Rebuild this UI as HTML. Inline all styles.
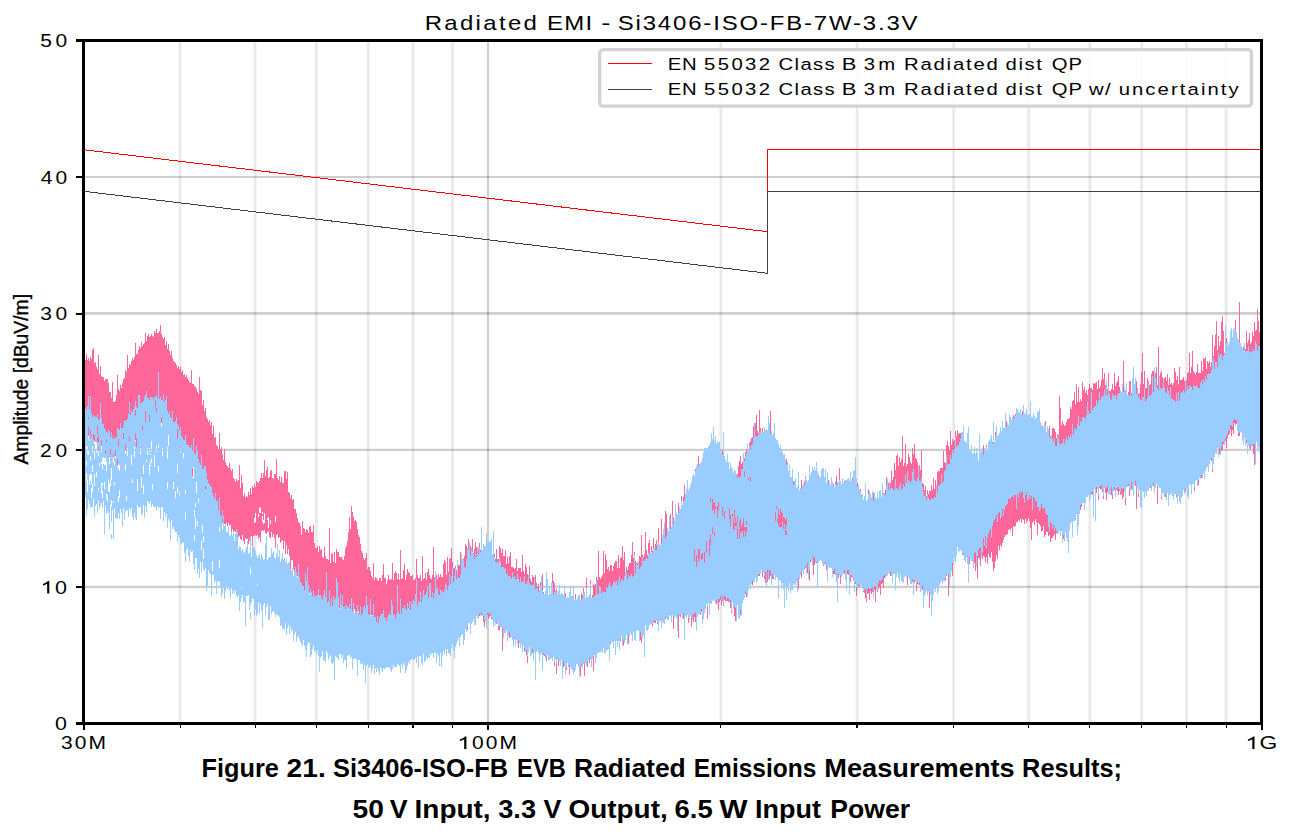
<!DOCTYPE html>
<html><head><meta charset="utf-8"><title>Radiated EMI</title>
<style>
html,body{margin:0;padding:0;background:#fff;}
body{width:1289px;height:839px;overflow:hidden;font-family:"Liberation Sans",sans-serif;}
svg{display:block;font-family:"Liberation Sans",sans-serif;}
</style></head><body>
<svg width="1289" height="839" viewBox="0 0 1289 839">
<rect width="1289" height="839" fill="#fff"/>
<g>
<rect x="178.74" y="42" width="2.8" height="679.5" fill="#000" fill-opacity="0.088"/>
<rect x="253.71" y="42" width="2.8" height="679.5" fill="#000" fill-opacity="0.088"/>
<rect x="314.96" y="42" width="2.8" height="679.5" fill="#000" fill-opacity="0.088"/>
<rect x="366.74" y="42" width="2.8" height="679.5" fill="#000" fill-opacity="0.088"/>
<rect x="411.60" y="42" width="2.8" height="679.5" fill="#000" fill-opacity="0.088"/>
<rect x="451.17" y="42" width="2.8" height="679.5" fill="#000" fill-opacity="0.088"/>
<rect x="719.42" y="42" width="2.8" height="679.5" fill="#000" fill-opacity="0.088"/>
<rect x="855.63" y="42" width="2.8" height="679.5" fill="#000" fill-opacity="0.088"/>
<rect x="952.28" y="42" width="2.8" height="679.5" fill="#000" fill-opacity="0.088"/>
<rect x="1027.24" y="42" width="2.8" height="679.5" fill="#000" fill-opacity="0.088"/>
<rect x="1088.49" y="42" width="2.8" height="679.5" fill="#000" fill-opacity="0.088"/>
<rect x="1140.28" y="42" width="2.8" height="679.5" fill="#000" fill-opacity="0.088"/>
<rect x="1185.14" y="42" width="2.8" height="679.5" fill="#000" fill-opacity="0.088"/>
<rect x="1224.70" y="42" width="2.8" height="679.5" fill="#000" fill-opacity="0.088"/>
<rect x="486.97" y="42" width="2.1" height="680" fill="#000" fill-opacity="0.19"/>
<rect x="85" y="585.70" width="1175" height="2.40" fill="#000" fill-opacity="0.19"/>
<rect x="85" y="448.80" width="1175" height="2.20" fill="#000" fill-opacity="0.19"/>
<rect x="85" y="312.00" width="1175" height="2.80" fill="#000" fill-opacity="0.19"/>
<rect x="85" y="176.00" width="1175" height="2.00" fill="#000" fill-opacity="0.19"/>
</g>
<g fill="none" stroke-width="1" shape-rendering="crispEdges">
<path d="M85.00 149.88L767.77 231.74M767.50 231.74V149.50H1260.00" stroke="#ff0000"/>
<path d="M85.00 191.46L767.77 273.32M767.50 273.52V191.50H1260.00" stroke="#404040"/>
</g>
<g shape-rendering="crispEdges" stroke-width="1" fill="none" transform="translate(0.5 0)">
<path stroke="#ff6699" d="M85 360v72M86 354v81M87 360v75M88 358v78M89 361v78M90 357v81M91 359v81M92 350v89M93 348v94M94 363v78M95 362v80M96 367v75M97 369v91M98 355v95M99 374v84M100 366v86M101 376v70M102 377v80M103 377v77M104 381v71M105 379v79M106 379v72M107 379v73M108 383v73M109 392v65M110 392v77M111 398v57M112 382v82M113 402v55M114 402v55M115 401v55M116 395v60M117 375v91M118 389v71M119 391v67M120 385v69M121 388v67M122 383v71M123 379v84M124 378v77M125 370v80M126 372v74M127 355v91M128 368v77M129 364v82M130 365v77M131 361v81M132 358v90M133 360v82M134 357v89M135 343v97M136 354v93M137 354v83M138 350v85M139 346v91M140 348v87M141 342v91M142 346v88M143 344v90M144 343v86M145 333v97M146 341v90M147 336v95M148 334v92M149 337v89M150 336v91M151 334v89M152 336v91M153 337v90M154 331v91M155 333v87M156 329v92M157 333v84M158 333v98M159 331v93M160 325v96M161 334v89M162 337v87M163 339v97M164 337v98M165 345v84M166 341v88M167 349v81M168 344v88M169 351v81M170 355v82M171 351v86M172 358v79M173 361v77M174 362v81M175 363v96M176 365v86M177 368v79M178 366v84M179 369v80M180 367v81M181 372v81M182 370v80M183 375v76M184 374v88M185 377v85M186 375v80M187 378v78M188 380v85M189 382v81M190 383v78M191 370v92M192 384v93M193 384v81M194 386v83M195 387v81M196 389v86M197 392v83M198 394v104M199 377v110M200 390v90M201 391v92M202 405v82M203 400v82M204 411v80M205 408v82M206 417v72M207 419v90M208 422v72M209 420v79M210 425v75M211 422v87M212 434v65M213 426v87M214 438v67M215 437v71M216 445v63M217 446v67M218 449v68M219 433v81M220 449v70M221 447v73M222 454v69M223 460v72M224 449v75M225 462v63M226 465v58M227 466v60M228 468v55M229 463v62M230 469v56M231 471v63M232 469v60M233 478v55M234 479v52M235 482v50M236 479v55M237 481v58M238 480v57M239 465v71M240 488v51M241 475v65M242 483v52M243 496v45M244 493v51M245 498v40M246 496v43M247 497v42M248 492v52M249 495v46M250 488v49M251 494v42M252 486v61M253 488v48M254 484v52M255 487v48M256 481v55M257 482v53M258 483v56M259 481v56M260 478v64M261 473v58M262 478v52M263 473v58M264 460v70M265 476v57M266 470v64M267 467v65M268 478v53M269 477v60M270 471v67M271 470v62M272 478v59M273 479v55M274 474v64M275 474v74M276 459v76M277 478v56M278 480v58M279 476v61M280 482v61M281 477v64M282 483v57M283 483v66M284 471v70M285 471v83M286 479v66M287 472v82M288 492v57M289 493v63M290 498v71M291 495v65M292 500v60M293 499v70M294 509v64M295 509v72M296 513v59M297 518v58M298 522v56M299 523v61M300 526v56M301 535v50M302 521v65M303 528v64M304 529v77M305 532v64M306 529v63M307 530v62M308 533v76M309 527v66M310 526v68M311 532v68M312 532v67M313 525v80M314 543v55M315 548v51M316 548v62M317 546v61M318 552v50M319 546v62M320 550v56M321 549v58M322 557v48M323 558v46M324 547v64M325 556v51M326 559v45M327 559v51M328 560v49M329 528v94M330 563v63M331 554v63M332 553v55M333 562v51M334 552v55M335 563v64M336 549v59M337 552v56M338 552v54M339 557v51M340 557v49M341 557v50M342 559v48M343 560v47M344 556v54M345 548v65M346 546v73M347 541v66M348 532v77M349 517v93M350 529v81M351 506v106M352 512v99M353 517v92M354 521v88M355 520v92M356 522v95M357 529v83M358 535v76M359 537v90M360 544v71M361 551v66M362 553v61M363 558v56M364 560v54M365 558v74M366 553v63M367 569v55M368 567v52M369 567v59M370 571v47M371 576v39M372 578v38M373 563v58M374 580v38M375 577v51M376 578v44M377 580v39M378 581v47M379 578v48M380 578v39M381 581v38M382 575v44M383 564v63M384 578v43M385 578v41M386 584v45M387 580v58M388 575v46M389 579v44M390 580v38M391 579v48M392 563v52M393 580v37M394 573v45M395 571v67M396 573v48M397 579v40M398 574v40M399 580v40M400 550v69M401 579v47M402 578v36M403 570v52M404 564v62M405 580v32M406 575v37M407 569v50M408 572v58M409 573v59M410 576v34M411 576v53M412 575v36M413 580v28M414 580v36M415 578v33M416 559v50M417 575v34M418 578v31M419 578v28M420 575v35M421 581v48M422 556v50M423 579v35M424 578v30M425 573v39M426 580v26M427 572v44M428 569v43M429 575v26M430 578v31M431 579v21M432 575v34M433 547v61M434 577v22M435 573v41M436 575v28M437 579v21M438 574v34M439 577v32M440 574v28M441 577v27M442 577v22M443 564v45M444 560v36M445 562v37M446 575v35M447 557v62M448 572v23M449 559v42M450 558v43M451 548v53M452 562v47M453 568v41M454 568v45M455 566v32M456 570v23M457 567v23M458 565v28M459 565v28M460 552v41M461 555v70M462 561v40M463 559v35M464 556v54M465 544v50M466 546v48M467 551v79M468 539v56M469 547v52M470 546v64M471 548v68M472 539v61M473 553v48M474 549v60M475 542v69M476 547v63M477 548v60M478 548v70M479 543v73M480 550v61M481 556v59M482 556v58M483 556v66M484 557v70M485 560v56M486 550v71M487 560v55M488 560v59M489 560v57M490 558v58M491 558v61M492 556v64M493 563v59M494 554v67M495 559v63M496 549v75M497 559v64M498 559v71M499 546v84M500 548v74M501 553v70M502 549v102M503 556v73M504 556v69M505 550v76M506 564v64M507 557v73M508 563v69M509 556v82M510 552v79M511 567v64M512 567v71M513 568v71M514 569v70M515 568v71M516 559v81M517 571v64M518 568v80M519 568v70M520 568v78M521 572v67M522 555v87M523 571v71M524 574v77M525 564v79M526 567v88M527 574v89M528 579v73M529 566v79M530 579v67M531 582v71M532 575v78M533 577v70M534 586v61M535 575v71M536 583v66M537 587v62M538 584v64M539 591v66M540 582v68M541 593v60M542 574v83M543 592v63M544 594v62M545 592v58M546 590v71M547 594v58M548 597v56M549 586v73M550 598v56M551 601v55M552 573v87M553 581v73M554 583v83M555 591v64M556 589v85M557 595v64M558 603v63M559 599v59M560 606v50M561 597v61M562 606v53M563 602v65M564 602v57M565 593v71M566 601v69M567 604v58M568 608v58M569 600v75M570 608v55M571 604v59M572 608v62M573 609v58M574 606v58M575 594v68M576 603v59M577 601v63M578 600v60M579 600v65M580 608v68M581 593v73M582 595v66M583 588v70M584 597v79M585 607v55M586 578v79M587 601v66M588 605v52M589 595v68M590 580v79M591 600v62M592 595v62M593 584v87M594 585v67M595 584v70M596 577v73M597 580v69M598 551v97M599 577v71M600 579v69M601 577v70M602 575v73M603 551v94M604 573v70M605 554v96M606 560v82M607 569v77M608 567v80M609 571v80M610 565v79M611 565v76M612 571v68M613 566v72M614 563v75M615 561v78M616 561v76M617 568v72M618 555v81M619 568v76M620 558v83M621 557v79M622 546v95M623 560v86M624 552v84M625 572v64M626 567v64M627 570v69M628 566v78M629 563v68M630 563v67M631 555v76M632 542v87M633 558v71M634 552v84M635 561v71M636 563v66M637 563v66M638 562v69M639 556v71M640 557v83M641 535v108M642 555v69M643 557v76M644 554v69M645 532v91M646 550v73M647 555v68M648 543v80M649 540v79M650 554v67M651 546v75M652 551v75M653 538v84M654 551v72M655 544v79M656 540v80M657 546v78M658 528v102M659 545v71M660 545v75M661 519v96M662 540v77M663 539v78M664 539v78M665 511v108M666 514v100M667 538v75M668 536v83M669 534v81M670 514v100M671 531v91M672 501v110M673 517v112M674 527v85M675 526v85M676 514v99M677 521v91M678 503v135M679 517v94M680 515v102M681 496v114M682 512v99M683 497v122M684 485v127M685 507v103M686 493v120M687 502v110M688 500v123M689 495v120M690 495v120M691 493v134M692 477v143M693 484v138M694 488v129M695 469v153M696 481v135M697 481v132M698 456v158M699 465v148M700 468v147M701 467v145M702 464v146M703 460v156M704 458v150M705 454v152M706 453v148M707 451v168M708 447v155M709 448v157M710 448v155M711 444v154M712 442v157M713 444v156M714 445v152M715 442v159M716 447v157M717 442v159M718 449v161M719 453v149M720 453v147M721 454v151M722 451v150M723 461v145M724 459v141M725 464v137M726 465v136M727 470v131M728 472v130M729 473v129M730 465v143M731 476v137M732 476v125M733 477v124M734 479v137M735 478v143M736 476v127M737 474v129M738 466v141M739 461v146M740 456v159M741 464v142M742 462v137M743 460v139M744 458v133M745 452v142M746 449v148M747 449v144M748 449v137M749 443v141M750 441v142M751 438v141M752 437v148M753 426v151M754 433v143M755 423v153M756 415v161M757 431v147M758 433v143M759 410v166M760 428v143M761 437v133M762 428v149M763 432v139M764 432v147M765 434v149M766 433v145M767 435v147M768 434v143M769 436v143M770 411v165M771 431v144M772 440v139M773 439v140M774 442v131M775 443v132M776 445v128M777 448v128M778 450v128M779 452v127M780 453v124M781 456v126M782 453v127M783 457v123M784 461v127M785 466v117M786 459v122M787 466v114M788 474v113M789 470v111M790 480v102M791 484v98M792 480v104M793 481v102M794 486v95M795 492v87M796 492v84M797 494v92M798 482v107M799 494v78M800 494v77M801 480v98M802 486v84M803 489v82M804 481v88M805 476v92M806 480v88M807 483v90M808 482v92M809 483v98M810 477v85M811 476v85M812 480v81M813 476v99M814 476v89M815 476v86M816 474v89M817 480v91M818 475v86M819 479v82M820 478v82M821 478v79M822 474v88M823 483v83M824 480v80M825 486v78M826 485v85M827 487v83M828 480v83M829 488v80M830 489v78M831 487v80M832 491v75M833 484v90M834 491v83M835 482v93M836 476v101M837 488v87M838 487v91M839 468v106M840 488v96M841 485v90M842 486v87M843 489v84M844 481v93M845 487v88M846 483v90M847 488v86M848 484v91M849 487v89M850 486v96M851 481v96M852 478v100M853 484v96M854 486v92M855 482v102M856 483v113M857 483v98M858 490v96M859 496v92M860 489v97M861 495v90M862 496v92M863 505v87M864 503v90M865 499v99M866 504v98M867 505v89M868 489v104M869 506v94M870 501v90M871 499v95M872 503v89M873 493v98M874 505v85M875 503v99M876 502v86M877 498v94M878 503v86M879 491v96M880 502v93M881 501v83M882 498v85M883 493v95M884 494v84M885 490v83M886 477v99M887 486v86M888 483v83M889 482v85M890 483v93M891 471v98M892 480v98M893 477v92M894 463v109M895 470v106M896 456v117M897 454v115M898 466v109M899 457v116M900 462v109M901 459v115M902 436v138M903 466v112M904 463v109M905 444v131M906 466v107M907 464v121M908 454v118M909 457v118M910 462v118M911 464v112M912 448v134M913 454v128M914 444v139M915 458v120M916 459v132M917 462v122M918 467v114M919 465v120M920 470v111M921 450v134M922 483v107M923 484v113M924 490v100M925 486v104M926 496v92M927 490v97M928 494v97M929 491v117M930 491v99M931 485v104M932 490v98M933 478v116M934 489v98M935 480v104M936 485v99M937 472v111M938 471v111M939 471v114M940 468v112M941 468v111M942 468v110M943 451v125M944 462v119M945 463v117M946 445v131M947 441v132M948 446v150M949 450v120M950 431v140M951 445v119M952 439v137M953 441v117M954 440v112M955 431v124M956 436v115M957 430v114M958 434v110M959 433v116M960 433v113M961 436v110M962 434v118M963 438v117M964 441v114M965 446v112M966 448v109M967 448v114M968 449v110M969 450v114M970 455v103M971 447v112M972 454v107M973 456v103M974 460v103M975 456v115M976 460v106M977 461v118M978 465v93M979 459v100M980 461v105M981 463v92M982 463v96M983 445v111M984 456v101M985 455v107M986 445v112M987 452v112M988 451v103M989 449v108M990 450v108M991 448v104M992 442v120M993 434v137M994 446v122M995 432v129M996 443v112M997 440v119M998 438v108M999 434v116M1000 434v111M1001 437v110M1002 436v107M1003 434v106M1004 429v108M1005 425v110M1006 421v114M1007 425v109M1008 428v102M1009 424v105M1010 424v106M1011 425v103M1012 421v115M1013 415v111M1014 417v110M1015 414v112M1016 419v103M1017 410v112M1018 413v107M1019 413v108M1020 418v101M1021 417v106M1022 411v108M1023 415v105M1024 414v110M1025 419v100M1026 409v114M1027 419v102M1028 418v100M1029 418v103M1030 416v112M1031 420v120M1032 420v103M1033 420v101M1034 417v108M1035 423v96M1036 421v101M1037 422v113M1038 424v99M1039 424v100M1040 426v100M1041 429v102M1042 426v105M1043 429v97M1044 426v111M1045 421v114M1046 438v94M1047 429v103M1048 436v100M1049 426v109M1050 436v106M1051 439v99M1052 428v110M1053 428v108M1054 429v105M1055 432v108M1056 438v95M1057 434v100M1058 435v92M1059 396v130M1060 408v118M1061 425v105M1062 421v108M1063 424v115M1064 426v115M1065 425v104M1066 422v108M1067 419v109M1068 419v106M1069 418v104M1070 407v117M1071 409v109M1072 401v116M1073 400v117M1074 392v122M1075 404v107M1076 384v130M1077 402v106M1078 387v121M1079 402v105M1080 399v111M1081 401v106M1082 382v116M1083 390v112M1084 387v118M1085 393v106M1086 390v106M1087 395v101M1088 389v104M1089 384v116M1090 388v103M1091 388v106M1092 390v105M1093 383v109M1094 384v102M1095 383v112M1096 382v111M1097 389v99M1098 380v120M1099 388v100M1100 386v103M1101 380v109M1102 368v124M1103 379v120M1104 373v115M1105 385v108M1106 380v120M1107 389v103M1108 373v117M1109 391v101M1110 391v98M1111 389v106M1112 384v115M1113 390v101M1114 373v117M1115 386v104M1116 383v107M1117 381v110M1118 376v119M1119 387v104M1120 391v104M1121 395v99M1122 393v106M1123 361v136M1124 393v96M1125 391v114M1126 397v90M1127 397v89M1128 392v94M1129 381v115M1130 381v107M1131 393v96M1132 393v93M1133 397v89M1134 392v92M1135 397v89M1136 381v128M1137 388v98M1138 394v103M1139 393v95M1140 384v100M1141 372v113M1142 353v138M1143 384v106M1144 371v125M1145 388v100M1146 388v100M1147 378v109M1148 381v104M1149 385v100M1150 384v104M1151 374v109M1152 371v112M1153 371v115M1154 380v106M1155 373v107M1156 367v114M1157 385v119M1158 347v139M1159 385v96M1160 373v115M1161 371v128M1162 377v115M1163 382v105M1164 378v109M1165 377v120M1166 381v117M1167 374v115M1168 385v105M1169 378v114M1170 384v110M1171 383v109M1172 385v111M1173 383v108M1174 368v125M1175 372v119M1176 380v117M1177 376v119M1178 384v111M1179 367v125M1180 380v114M1181 380v113M1182 379v109M1183 377v109M1184 381v107M1185 378v114M1186 380v105M1187 373v113M1188 372v113M1189 353v129M1190 373v107M1191 367v116M1192 351v129M1193 371v109M1194 373v118M1195 375v103M1196 372v107M1197 364v119M1198 373v112M1199 373v102M1200 373v105M1201 361v117M1202 371v101M1203 358v115M1204 359v108M1205 357v109M1206 369v97M1207 361v105M1208 363v97M1209 361v100M1210 367v90M1211 362v99M1212 335v137M1213 356v97M1214 346v111M1215 335v114M1216 321v129M1217 350v96M1218 336v107M1219 346v108M1220 341v102M1221 322v129M1222 316v134M1223 331v113M1224 353v90M1225 351v90M1226 338v110M1227 354v84M1228 354v81M1229 350v84M1230 341v89M1231 341v95M1232 343v87M1233 340v94M1234 335v88M1235 320v105M1236 339v85M1237 345v83M1238 348v88M1239 332v104M1240 348v82M1241 352v77M1242 351v81M1243 347v86M1244 345v92M1245 349v90M1246 331v112M1247 343v96M1248 340v100M1249 333v109M1250 344v105M1251 342v102M1252 332v112M1253 336v118M1254 322v143M1255 331v111M1256 330v112M1257 309v131M1258 321v125M1259 332v113M1260 325v120"/>
<path stroke="#ffffff" d="M264 513v6M270 520v4M254 518v5M268 522v6M275 516v6M255 513v5M262 512v2M264 519v4M260 507v6M267 518v2M262 516v6M258 514v3M259 508v5M255 518v4M263 520v4M268 517v6"/>
<path stroke="#99ccff" d="M85 408v89M86 410v36M86 451v10M86 466v7M86 481v35M87 406v41M87 454v26M87 492v17M88 396v21M88 419v8M88 439v12M88 455v45M89 409v28M89 441v34M89 485v19M90 396v34M90 435v21M90 461v13M90 481v27M91 413v22M91 437v37M91 484v4M91 498v9M92 417v29M92 452v13M92 472v12M92 492v15M93 415v19M93 440v59M94 416v19M94 444v7M94 459v15M94 486v31M95 417v24M95 450v56M96 417v26M96 453v19M96 477v27M97 414v12M97 434v4M97 442v71M98 420v15M98 442v5M98 456v32M98 490v11M99 419v44M99 466v43M100 403v103M101 418v22M101 452v10M101 464v19M101 493v10M102 424v34M102 469v14M102 485v6M102 498v10M103 424v33M103 464v37M104 428v30M104 465v17M104 489v45M105 430v21M105 454v4M105 465v41M106 432v8M106 443v19M106 471v23M106 499v15M107 433v62M107 502v9M108 430v50M108 491v22M109 431v25M109 464v20M109 492v37M110 437v12M110 455v24M110 486v19M111 432v36M111 480v20M111 506v16M111 534v5M112 439v71M113 436v18M113 463v38M113 503v36M114 439v23M114 465v17M114 485v23M115 438v12M115 458v60M116 437v82M117 428v31M117 467v51M118 429v10M118 446v18M118 469v27M118 502v11M119 430v35M119 471v19M119 498v21M120 423v86M121 428v85M122 428v98M123 425v8M123 439v69M124 420v100M125 421v23M125 454v10M125 471v40M126 420v76M126 501v9M127 419v29M127 456v54M128 414v103M129 402v34M129 441v67M130 415v95M131 410v45M131 465v43M132 412v67M132 483v34M133 409v111M134 407v38M134 457v56M135 401v9M135 416v17M135 441v77M136 407v31M136 447v73M137 408v71M137 491v14M138 395v113M139 395v112M140 403v45M140 454v53M141 403v74M141 488v27M142 402v23M142 430v84M143 401v64M143 474v11M143 494v11M144 397v121M145 395v16M145 422v84M146 391v69M146 462v50M147 398v50M147 455v46M148 398v104M149 400v15M149 422v26M149 452v13M149 475v29M150 397v56M150 455v6M150 466v35M151 397v44M151 452v6M151 462v45M152 397v87M152 490v14M153 399v107M154 397v58M154 467v40M155 396v4M155 407v100M156 395v13M156 412v34M156 452v59M157 398v108M158 372v72M158 448v18M158 472v36M159 399v108M160 397v122M161 400v17M161 427v80M162 400v48M162 456v51M163 394v127M164 402v110M165 400v117M166 396v118M167 411v36M167 459v23M167 489v39M168 414v21M168 446v73M169 411v111M170 417v124M171 418v102M172 411v118M173 422v60M173 489v38M174 422v108M175 421v70M175 498v34M176 417v115M177 424v5M177 439v25M177 473v14M177 493v49M178 426v109M179 430v62M179 496v42M180 427v20M180 453v92M181 436v108M182 438v104M183 440v13M183 458v85M184 440v113M185 435v55M185 494v18M185 520v42M186 444v106M187 445v103M188 445v111M189 447v114M190 448v102M191 445v107M192 451v17M192 478v73M193 438v29M193 478v86M194 453v57M194 517v18M194 541v29M195 454v49M195 507v11M195 529v29M196 446v36M196 493v65M197 451v70M197 526v48M198 459v39M198 503v66M199 463v115M200 465v97M201 455v86M201 550v22M202 469v56M202 533v29M203 469v67M203 542v7M203 559v10M204 466v105M205 466v20M205 491v77M206 473v118M207 480v106M208 483v87M209 484v89M210 486v88M211 487v109M212 493v68M212 571v4M213 496v79M214 499v84M215 493v88M216 501v93M217 501v80M218 510v72M219 497v30M219 532v28M219 568v13M220 515v72M221 517v80M222 510v8M222 530v64M223 516v72M224 526v73M225 524v67M226 532v54M227 532v57M228 527v59M229 536v54M230 535v63M231 532v56M232 536v58M233 531v60M234 541v52M235 534v56M236 529v67M237 532v65M238 549v46M239 546v65M240 547v55M241 551v35M241 589v9M242 549v46M243 552v51M244 553v48M245 551v75M246 547v49M247 541v55M248 554v41M249 553v57M250 537v30M250 575v30M250 612v8M251 557v45M252 546v52M253 547v52M254 548v68M255 551v58M256 555v61M257 558v26M257 586v28M258 556v46M259 554v59M260 559v45M261 554v56M262 557v71M263 560v45M264 559v44M265 545v70M266 536v71M267 560v44M268 558v62M269 557v63M270 557v49M271 548v66M272 553v59M273 551v60M274 557v56M275 559v58M276 554v60M277 544v71M278 557v59M279 550v67M280 562v64M281 559v66M282 553v76M283 560v68M284 558v72M285 562v61M286 558v77M287 564v64M288 562v63M289 563v71M290 569v58M291 570v61M292 568v62M293 576v65M294 571v63M295 567v65M296 572v70M297 578v59M298 564v72M299 577v62M300 582v60M301 583v61M302 588v58M303 586v54M304 590v56M305 573v77M306 581v76M307 567v78M308 585v57M309 595v48M310 589v68M311 592v63M312 596v53M313 591v54M314 597v54M315 595v56M316 596v58M317 595v55M318 589v67M319 595v77M320 595v63M321 598v58M322 600v51M323 595v66M324 590v70M325 597v65M326 572v79M327 603v50M328 601v59M329 590v67M330 606v49M331 598v65M332 606v58M333 596v66M334 600v80M335 598v58M336 578v79M337 582v76M338 597v63M339 609v45M340 593v61M341 605v53M342 595v60M343 607v56M344 606v54M345 609v51M346 605v64M347 606v50M348 608v47M349 604v51M350 609v49M351 598v59M352 611v58M353 603v56M354 613v46M355 612v46M356 611v49M357 605v71M358 613v47M359 614v46M360 606v58M361 615v48M362 613v51M363 607v63M364 605v60M365 608v75M366 596v70M367 605v59M368 614v53M369 615v53M370 599v67M371 616v57M372 615v54M373 604v61M374 617v57M375 617v51M376 622v50M377 616v52M378 623v48M379 617v58M380 616v51M381 614v55M382 614v58M383 610v58M384 618v51M385 617v51M386 621v46M387 618v49M388 615v53M389 613v54M390 615v55M391 600v72M392 605v64M393 614v51M394 615v52M395 619v48M396 614v53M397 585v79M398 612v53M399 614v52M400 599v74M401 614v50M402 608v60M403 608v55M404 605v60M405 609v64M406 610v60M407 603v63M408 608v54M409 602v62M410 610v50M411 601v58M412 604v55M413 600v60M414 601v59M415 594v64M416 579v84M417 606v51M418 601v67M419 602v54M420 592v64M421 602v61M422 597v68M423 590v64M424 595v67M425 595v66M426 592v65M427 586v73M428 598v59M429 583v75M430 583v70M431 597v58M432 592v61M433 598v60M434 593v60M435 571v81M436 589v74M437 587v67M438 594v62M439 595v71M440 590v63M441 590v77M442 593v63M443 592v59M444 590v64M445 584v65M446 585v71M447 590v59M448 586v67M449 574v80M450 584v72M451 576v72M452 568v76M453 582v68M454 576v82M455 568v79M456 579v65M457 560v81M458 578v60M459 578v68M460 575v62M461 554v81M462 559v75M463 560v85M464 567v73M465 568v61M466 559v73M467 548v79M468 549v74M469 543v80M470 556v78M471 549v75M472 552v70M473 554v65M474 559v66M475 553v72M476 557v59M477 547v71M478 554v65M479 548v65M480 552v64M481 527v85M482 550v66M483 544v72M484 546v74M485 546v75M486 533v96M487 542v71M488 542v71M489 542v73M490 541v72M491 539v78M492 554v66M493 531v96M494 557v65M495 562v63M496 563v59M497 561v62M498 563v64M499 557v69M500 562v65M501 567v60M502 567v60M503 567v71M504 569v64M505 568v65M506 574v56M507 573v68M508 576v60M509 576v56M510 577v61M511 579v58M512 572v68M513 577v70M514 576v61M515 579v67M516 579v61M517 574v69M518 579v61M519 582v61M520 577v71M521 582v62M522 582v70M523 581v65M524 576v72M525 584v68M526 584v66M527 581v75M528 575v77M529 583v64M530 585v71M531 585v70M532 585v64M533 585v76M534 577v76M535 589v91M536 588v64M537 589v62M538 592v61M539 590v72M540 586v69M541 576v77M542 590v80M543 594v59M544 594v60M545 591v67M546 572v84M547 579v76M548 595v65M549 586v74M550 594v65M551 583v75M552 583v78M553 595v62M554 592v70M555 592v67M556 594v70M557 594v64M558 591v69M559 585v76M560 594v72M561 593v67M562 594v85M563 595v66M564 586v80M565 597v78M566 598v70M567 597v66M568 598v69M569 592v73M570 586v81M571 596v73M572 596v75M573 587v87M574 600v72M575 599v71M576 600v64M577 598v66M578 595v72M579 595v82M580 600v66M581 600v63M582 598v70M583 593v71M584 592v71M585 598v65M586 588v78M587 597v64M588 597v63M589 596v62M590 584v74M591 598v69M592 598v61M593 597v59M594 596v59M595 595v68M596 581v77M597 594v59M598 594v59M599 586v66M600 587v65M601 594v57M602 591v62M603 592v56M604 592v61M605 592v61M606 587v63M607 588v62M608 585v64M609 582v79M610 586v56M611 588v54M612 585v57M613 582v66M614 581v60M615 583v72M616 581v60M617 586v61M618 580v61M619 576v74M620 583v56M621 579v57M622 580v65M623 581v59M624 576v67M625 572v68M626 573v62M627 579v65M628 575v60M629 577v59M630 576v57M631 574v61M632 577v64M633 576v56M634 555v85M635 574v67M636 564v67M637 565v65M638 563v68M639 569v72M640 567v65M641 566v71M642 557v81M643 561v74M644 561v96M645 559v66M646 558v72M647 559v72M648 553v76M649 554v71M650 553v71M651 552v72M652 553v70M653 549v72M654 548v72M655 550v71M656 550v69M657 545v78M658 542v89M659 544v78M660 545v74M661 544v84M662 535v87M663 529v94M664 523v101M665 539v78M666 536v82M667 528v92M668 531v89M669 516v98M670 529v87M671 527v95M672 516v99M673 524v92M674 521v97M675 504v112M676 513v105M677 515v116M678 513v101M679 507v109M680 509v105M681 501v113M682 505v113M683 502v111M684 500v140M685 494v122M686 489v129M687 480v135M688 490v128M689 488v132M690 485v130M691 482v133M692 476v144M693 474v140M694 476v138M695 471v141M696 466v165M697 464v153M698 466v148M699 464v150M700 463v150M701 462v147M702 458v166M703 452v167M704 448v165M705 448v161M706 449v155M707 448v158M708 446v157M709 445v170M710 442v160M711 433v171M712 439v162M713 427v173M714 441v160M715 436v168M716 444v156M717 442v161M718 442v157M719 442v157M720 451v145M721 453v147M722 455v141M723 432v173M724 456v140M725 459v138M726 462v138M727 454v144M728 462v136M729 469v132M730 463v137M731 467v144M732 469v133M733 473v135M734 470v137M735 471v137M736 474v147M737 478v127M738 476v142M739 478v141M740 477v133M741 469v147M742 469v134M743 453v147M744 461v137M745 457v134M746 453v140M747 444v153M748 449v141M749 445v140M750 450v139M751 445v139M752 444v137M753 438v144M754 423v159M755 436v142M756 437v146M757 436v145M758 435v139M759 433v141M760 433v141M761 433v137M762 432v139M763 432v141M764 427v149M765 430v142M766 429v158M767 430v140M768 416v164M769 423v147M770 434v137M771 431v154M772 435v139M773 433v144M774 423v152M775 438v142M776 440v137M777 440v138M778 444v154M779 448v132M780 445v136M781 449v138M782 454v129M783 455v134M784 454v154M785 460v126M786 465v135M787 462v126M788 471v120M789 465v118M790 477v116M791 477v113M792 469v121M793 485v97M794 481v104M795 478v107M796 488v94M797 486v106M798 472v106M799 490v89M800 488v87M801 489v83M802 485v87M803 484v90M804 485v83M805 477v89M806 481v93M807 482v81M808 480v99M809 465v105M810 475v85M811 472v89M812 467v98M813 470v86M814 467v91M815 470v93M816 462v100M817 471v116M818 477v86M819 477v84M820 477v83M821 470v91M822 468v96M823 468v97M824 477v88M825 469v93M826 483v82M827 472v109M828 484v83M829 482v86M830 485v83M831 477v91M832 482v95M833 486v85M834 487v82M835 484v90M836 485v97M837 482v120M838 482v92M839 480v95M840 481v94M841 484v93M842 478v97M843 483v89M844 483v87M845 480v100M846 480v110M847 479v91M848 478v92M849 481v114M850 472v103M851 481v94M852 481v96M853 471v108M854 470v122M855 457v125M856 478v109M857 487v103M858 485v99M859 490v96M860 491v95M861 496v89M862 494v93M863 500v91M864 496v94M865 483v105M866 501v95M867 499v90M868 494v94M869 491v98M870 494v95M871 497v91M872 491v96M873 501v97M874 492v94M875 497v89M876 499v91M877 492v98M878 498v85M879 492v88M880 490v91M881 497v83M882 483v96M883 494v82M884 493v82M885 495v83M886 486v89M887 479v96M888 490v83M889 481v93M890 489v83M891 488v88M892 488v95M893 490v84M894 490v84M895 479v111M896 488v89M897 489v84M898 490v88M899 486v96M900 483v92M901 490v91M902 488v94M903 484v99M904 487v90M905 475v101M906 483v95M907 471v106M908 480v97M909 481v98M910 483v101M911 481v103M912 472v107M913 469v126M914 480v100M915 481v100M916 481v102M917 478v104M918 466v119M919 481v102M920 481v111M921 478v111M922 487v98M923 492v116M924 496v100M925 495v98M926 500v91M927 495v100M928 498v92M929 499v93M930 501v94M931 498v118M932 499v102M933 499v95M934 497v92M935 497v95M936 485v102M937 493v101M938 486v105M939 485v100M940 484v99M941 475v106M942 483v101M943 481v100M944 471v109M945 470v108M946 455v120M947 465v110M948 464v110M949 464v124M950 455v122M951 459v112M952 450v113M953 453v112M954 449v109M955 436v126M956 447v109M957 446v101M958 445v107M959 442v109M960 439v111M961 432v119M962 432v124M963 426v127M964 441v119M965 441v121M966 443v113M967 433v131M968 427v156M969 449v108M970 451v107M971 445v116M972 454v106M973 453v115M974 447v106M975 454v98M976 448v119M977 453v103M978 461v89M979 434v114M980 452v95M981 449v108M982 448v104M983 455v83M984 448v98M985 451v85M986 447v101M987 451v87M988 442v92M989 440v91M990 438v91M991 435v102M992 444v82M993 422v100M994 442v78M995 436v82M996 426v89M997 436v86M998 435v78M999 433v79M1000 427v92M1001 431v86M1002 421v88M1003 428v88M1004 428v81M1005 413v93M1006 427v78M1007 423v81M1008 425v74M1009 415v83M1010 417v82M1011 420v77M1012 417v79M1013 419v79M1014 416v79M1015 416v79M1016 408v101M1017 411v83M1018 412v86M1019 413v79M1020 409v85M1021 414v77M1022 415v77M1023 405v93M1024 414v89M1025 413v82M1026 409v83M1027 415v86M1028 415v84M1029 414v81M1030 401v98M1031 417v79M1032 417v93M1033 413v84M1034 416v82M1035 419v83M1036 417v84M1037 411v96M1038 412v95M1039 409v102M1040 422v87M1041 425v79M1042 427v81M1043 427v82M1044 423v85M1045 425v88M1046 432v83M1047 426v89M1048 429v98M1049 436v95M1050 438v84M1051 435v88M1052 439v90M1053 442v83M1054 438v93M1055 446v82M1056 446v85M1057 436v97M1058 438v95M1059 443v88M1060 445v91M1061 443v88M1062 443v100M1063 439v96M1064 444v96M1065 439v93M1066 437v101M1067 440v102M1068 436v117M1069 438v92M1070 434v90M1071 437v85M1072 424v113M1073 435v86M1074 429v92M1075 428v92M1076 430v83M1077 424v111M1078 416v110M1079 426v88M1080 421v84M1081 422v82M1082 417v86M1083 418v85M1084 417v93M1085 419v84M1086 415v82M1087 402v95M1088 411v84M1089 414v88M1090 413v85M1091 392v100M1092 410v82M1093 408v109M1094 407v82M1095 406v115M1096 400v87M1097 404v85M1098 401v94M1099 392v95M1100 400v86M1101 397v88M1102 397v92M1103 395v101M1104 389v99M1105 395v93M1106 379v109M1107 396v90M1108 387v107M1109 394v100M1110 398v97M1111 400v87M1112 394v100M1113 396v94M1114 396v91M1115 395v102M1116 399v89M1117 395v94M1118 393v94M1119 393v97M1120 390v102M1121 392v96M1122 384v105M1123 392v96M1124 387v105M1125 392v106M1126 383v103M1127 395v90M1128 395v89M1129 396v93M1130 393v98M1131 396v86M1132 378v112M1133 367v129M1134 384v101M1135 378v103M1136 394v92M1137 390v97M1138 398v96M1139 396v94M1140 400v107M1141 401v107M1142 397v94M1143 397v95M1144 388v110M1145 402v90M1146 399v97M1147 398v92M1148 383v108M1149 395v92M1150 396v90M1151 394v97M1152 376v110M1153 392v91M1154 368v125M1155 378v110M1156 386v98M1157 388v98M1158 390v96M1159 376v112M1160 388v100M1161 389v108M1162 388v105M1163 379v115M1164 388v109M1165 392v102M1166 394v106M1167 387v106M1168 391v115M1169 395v100M1170 387v108M1171 399v94M1172 399v96M1173 400v100M1174 400v94M1175 402v92M1176 393v102M1177 401v103M1178 392v104M1179 401v101M1180 394v110M1181 392v106M1182 392v104M1183 390v100M1184 393v101M1185 378v110M1186 391v97M1187 386v110M1188 389v110M1189 386v98M1190 386v99M1191 387v107M1192 390v94M1193 385v99M1194 386v101M1195 386v95M1196 385v95M1197 387v99M1198 388v92M1199 388v90M1200 383v94M1201 380v95M1202 385v93M1203 379v94M1204 382v97M1205 376v95M1206 380v88M1207 374v91M1208 373v99M1209 374v90M1210 373v87M1211 370v88M1212 361v108M1213 358v106M1214 369v88M1215 362v91M1216 362v92M1217 367v81M1218 353v104M1219 357v91M1220 354v101M1221 354v93M1222 360v82M1223 356v86M1224 354v91M1225 326v112M1226 343v93M1227 341v93M1228 345v86M1229 342v88M1230 331v95M1231 328v97M1232 337v90M1233 329v91M1234 328v91M1235 329v91M1236 332v88M1237 338v93M1238 340v93M1239 341v91M1240 343v89M1241 346v87M1242 348v93M1243 350v95M1244 343v95M1245 351v95M1246 351v89M1247 351v103M1248 346v100M1249 352v98M1250 353v91M1251 351v95M1252 352v95M1253 349v95M1254 351v93M1255 341v123M1256 344v98M1257 350v99M1258 346v101M1259 346v107M1260 347v97"/>
<path stroke="#ff6699" d="M730 515v12M742 523v8M740 521v7M735 518v8M745 527v7M734 510v9M712 499v9M743 527v10M718 504v6M736 522v4M717 506v12M730 515v6M718 502v3M714 502v12M710 497v5M739 521v6M737 516v6M722 509v7M732 514v3M740 519v12M745 529v8M746 527v5M741 527v6M724 513v6M717 508v6M743 530v7M734 523v7M733 523v3M743 528v6M713 503v6M743 518v9M737 527v12M729 508v11M746 521v4M744 527v4M733 519v10M740 522v6M715 506v3M739 529v10M724 511v6M722 507v4M712 504v7M785 527v8M780 516v4M780 511v8M780 519v8M778 509v5M785 520v7M775 512v9M782 518v3M781 512v9M783 520v5M782 513v4M786 531v4M777 519v3M783 517v12M776 506v3M784 518v6M778 514v11M780 509v10M781 518v9M782 519v3M786 517v8M779 515v12M696 555v12M694 551v11M704 552v11M701 554v6M710 534v11M699 549v10M706 541v5M698 554v8M702 553v6M712 527v7M698 549v8M694 549v3M709 544v12M706 546v7M709 540v11M714 532v5M744 471v6M750 479v3M750 477v3M748 477v3M1008 508v5M1011 513v2"/>
<path stroke="#ff6699" d="M1239 302v40"/>
</g>
<g shape-rendering="crispEdges">
<rect x="83.5" y="40.5" width="1178" height="683" fill="none" stroke="#000" stroke-width="3"/>
<rect x="179.54" y="725" width="1.2" height="3" fill="#000"/>
<rect x="254.51" y="725" width="1.2" height="3" fill="#000"/>
<rect x="315.76" y="725" width="1.2" height="3" fill="#000"/>
<rect x="367.54" y="725" width="1.2" height="3" fill="#000"/>
<rect x="412.40" y="725" width="1.2" height="3" fill="#000"/>
<rect x="451.97" y="725" width="1.2" height="3" fill="#000"/>
<rect x="720.22" y="725" width="1.2" height="3" fill="#000"/>
<rect x="856.43" y="725" width="1.2" height="3" fill="#000"/>
<rect x="953.08" y="725" width="1.2" height="3" fill="#000"/>
<rect x="1028.04" y="725" width="1.2" height="3" fill="#000"/>
<rect x="1089.29" y="725" width="1.2" height="3" fill="#000"/>
<rect x="1141.08" y="725" width="1.2" height="3" fill="#000"/>
<rect x="1185.94" y="725" width="1.2" height="3" fill="#000"/>
<rect x="1225.50" y="725" width="1.2" height="3" fill="#000"/>
<rect x="82.5" y="725" width="2" height="4.8" fill="#000"/>
<rect x="486.97" y="725" width="2" height="5" fill="#000"/>
<rect x="1260.5" y="725" width="2" height="4.8" fill="#000"/>
<rect x="76" y="722.00" width="6" height="3" fill="#000"/>
<rect x="76" y="585.90" width="6" height="2" fill="#000"/>
<rect x="76" y="449.30" width="6" height="2" fill="#000"/>
<rect x="76" y="312.70" width="6" height="2" fill="#000"/>
<rect x="76" y="176.10" width="6" height="2" fill="#000"/>
<rect x="76" y="39.00" width="6" height="3" fill="#000"/>
</g>
<rect x="599.7" y="49.6" width="651.8" height="56.5" rx="3.5" ry="3.5" fill="#fff" fill-opacity="0.86" stroke="#d3d1d1" stroke-width="3.3"/>
<g shape-rendering="crispEdges">
<rect x="607.5" y="62.5" width="44.5" height="1.3" fill="#ff0000"/>
<rect x="607.5" y="89" width="44.5" height="1.3" fill="#404040"/>
</g>
<g fill="#000">
<text transform="translate(424.63 29.70) scale(1.1800 1)" font-size="20.30" font-weight="normal" style="letter-spacing:1.989px">Radiated</text>
<text transform="translate(546.93 29.70) scale(1.1800 1)" font-size="20.30" font-weight="normal" style="letter-spacing:1.080px">EMI</text>
<text transform="translate(601.34 29.70) scale(1.3538 1)" font-size="20.30" font-weight="normal" style="letter-spacing:0.000px">-</text>
<text transform="translate(617.75 29.70) scale(1.1800 1)" font-size="20.30" font-weight="normal" style="letter-spacing:1.559px">Si3406-ISO-FB-7W-3.3V</text>
<text transform="translate(54.93 730.10) scale(1.2022 1)" font-size="17.80" font-weight="normal" style="letter-spacing:0.000px">0</text>
<text transform="translate(55.08 593.50) scale(1.2079 1)" font-size="17.80" font-weight="normal" style="letter-spacing:0.000px">0</text>
<text transform="translate(40.02 456.90) scale(1.1800 1)" font-size="17.80" font-weight="normal" style="letter-spacing:3.174px">20</text>
<text transform="translate(40.34 320.30) scale(1.1800 1)" font-size="17.80" font-weight="normal" style="letter-spacing:2.895px">30</text>
<text transform="translate(40.67 183.70) scale(1.1800 1)" font-size="17.80" font-weight="normal" style="letter-spacing:2.617px">40</text>
<text transform="translate(40.34 47.10) scale(1.1800 1)" font-size="17.80" font-weight="normal" style="letter-spacing:2.895px">50</text>
<text transform="translate(60.94 749.00) scale(1.1800 1)" font-size="17.80" font-weight="normal" style="letter-spacing:1.785px">30M</text>
<text transform="translate(471.94 749.00) scale(1.1800 1)" font-size="17.80" font-weight="normal" style="letter-spacing:1.785px">00M</text>
<text transform="translate(1259.53 749.00) scale(1.2841 1)" font-size="17.80" font-weight="normal" style="letter-spacing:0.000px">G</text>
<text transform="translate(667.81 69.70) scale(1.1800 1)" font-size="17.20" font-weight="normal" style="letter-spacing:0.548px">EN</text>
<text transform="translate(704.07 69.70) scale(1.1800 1)" font-size="17.20" font-weight="normal" style="letter-spacing:2.017px">55032</text>
<text transform="translate(778.55 69.70) scale(1.1800 1)" font-size="17.20" font-weight="normal" style="letter-spacing:1.152px">Class</text>
<text transform="translate(841.79 69.70) scale(1.2757 1)" font-size="17.20" font-weight="normal" style="letter-spacing:0.000px">B</text>
<text transform="translate(863.87 69.70) scale(1.1800 1)" font-size="17.20" font-weight="normal" style="letter-spacing:2.534px">3m</text>
<text transform="translate(903.91 69.70) scale(1.1800 1)" font-size="17.20" font-weight="normal" style="letter-spacing:1.547px">Radiated</text>
<text transform="translate(1005.57 69.70) scale(1.1800 1)" font-size="17.20" font-weight="normal" style="letter-spacing:1.351px">dist</text>
<text transform="translate(1051.85 69.70) scale(1.1800 1)" font-size="17.20" font-weight="normal" style="letter-spacing:0.830px">QP</text>
<text transform="translate(667.81 95.10) scale(1.1800 1)" font-size="17.20" font-weight="normal" style="letter-spacing:0.548px">EN</text>
<text transform="translate(704.07 95.10) scale(1.1800 1)" font-size="17.20" font-weight="normal" style="letter-spacing:2.017px">55032</text>
<text transform="translate(778.55 95.10) scale(1.1800 1)" font-size="17.20" font-weight="normal" style="letter-spacing:1.152px">Class</text>
<text transform="translate(841.79 95.10) scale(1.2757 1)" font-size="17.20" font-weight="normal" style="letter-spacing:0.000px">B</text>
<text transform="translate(863.87 95.10) scale(1.1800 1)" font-size="17.20" font-weight="normal" style="letter-spacing:2.534px">3m</text>
<text transform="translate(903.91 95.10) scale(1.1800 1)" font-size="17.20" font-weight="normal" style="letter-spacing:1.547px">Radiated</text>
<text transform="translate(1005.57 95.10) scale(1.1800 1)" font-size="17.20" font-weight="normal" style="letter-spacing:1.351px">dist</text>
<text transform="translate(1051.85 95.10) scale(1.1800 1)" font-size="17.20" font-weight="normal" style="letter-spacing:0.830px">QP</text>
<text transform="translate(1088.92 95.10) scale(1.1800 1)" font-size="17.20" font-weight="normal" style="letter-spacing:1.286px">w/</text>
<text transform="translate(1118.63 95.10) scale(1.1800 1)" font-size="17.20" font-weight="normal" style="letter-spacing:1.770px">uncertainty</text>
<text transform="translate(201.52 777.10) scale(1.0120 1)" font-size="25.00" font-weight="bold" style="letter-spacing:0.000px">Figure</text>
<text transform="translate(286.62 777.10) scale(1.1263 1)" font-size="25.00" font-weight="bold" style="letter-spacing:0.000px">21.</text>
<text transform="translate(333.00 777.10) scale(1.0174 1)" font-size="25.00" font-weight="bold" style="letter-spacing:0.000px">Si3406-ISO-FB</text>
<text transform="translate(517.12 777.10) scale(0.9495 1)" font-size="25.00" font-weight="bold" style="letter-spacing:0.000px">EVB</text>
<text transform="translate(574.05 777.10) scale(1.0584 1)" font-size="25.00" font-weight="bold" style="letter-spacing:0.000px">Radiated</text>
<text transform="translate(693.77 777.10) scale(0.9814 1)" font-size="25.00" font-weight="bold" style="letter-spacing:0.000px">Emissions</text>
<text transform="translate(824.30 777.10) scale(1.0881 1)" font-size="25.00" font-weight="bold" style="letter-spacing:0.000px">Measurements</text>
<text transform="translate(1022.12 777.10) scale(1.0137 1)" font-size="25.00" font-weight="bold" style="letter-spacing:0.000px">Results;</text>
<text transform="translate(352.56 817.90) scale(1.1286 1)" font-size="25.00" font-weight="bold" style="letter-spacing:0.000px">50</text>
<text transform="translate(389.70 817.90) scale(1.0716 1)" font-size="25.00" font-weight="bold" style="letter-spacing:0.000px">V</text>
<text transform="translate(414.55 817.90) scale(1.1186 1)" font-size="25.00" font-weight="bold" style="letter-spacing:0.000px">Input,</text>
<text transform="translate(498.28 817.90) scale(1.0848 1)" font-size="25.00" font-weight="bold" style="letter-spacing:0.000px">3.3</text>
<text transform="translate(543.40 817.90) scale(1.0716 1)" font-size="25.00" font-weight="bold" style="letter-spacing:0.000px">V</text>
<text transform="translate(568.53 817.90) scale(1.1167 1)" font-size="25.00" font-weight="bold" style="letter-spacing:0.000px">Output,</text>
<text transform="translate(674.54 817.90) scale(1.0975 1)" font-size="25.00" font-weight="bold" style="letter-spacing:0.000px">6.5</text>
<text transform="translate(719.40 817.90) scale(1.1877 1)" font-size="25.00" font-weight="bold" style="letter-spacing:0.000px">W</text>
<text transform="translate(755.01 817.90) scale(1.0791 1)" font-size="25.00" font-weight="bold" style="letter-spacing:0.000px">Input</text>
<text transform="translate(830.34 817.90) scale(1.0642 1)" font-size="25.00" font-weight="bold" style="letter-spacing:0.000px">Power</text>
<path d="M49.30 593.50 L47.17 593.50 L47.17 583.70 Q46.39 584.23 45.15 584.75 Q43.89 585.27 42.90 585.54 L42.90 584.05 Q44.69 583.44 46.05 582.58 Q47.38 581.71 47.94 580.90 L49.30 580.90 Z"/>
<path d="M466.40 749.00 L464.20 749.00 L464.20 739.20 Q463.40 739.73 462.12 740.25 Q460.82 740.77 459.80 741.04 L459.80 739.55 Q461.65 738.94 463.05 738.08 Q464.43 737.21 465.00 736.40 L466.40 736.40 Z"/>
<path d="M1254.50 749.00 L1252.30 749.00 L1252.30 739.20 Q1251.50 739.73 1250.23 740.25 Q1248.93 740.77 1247.90 741.04 L1247.90 739.55 Q1249.75 738.94 1251.15 738.08 Q1252.53 737.21 1253.10 736.40 L1254.50 736.40 Z"/>
<text transform="translate(27.9 464.5) rotate(-90) scale(0.955 1.0)" font-size="20.4" stroke="#000" stroke-width="0.35" textLength="178.53" lengthAdjust="spacingAndGlyphs">Amplitude [dBuV/m]</text>
</g>
</svg>
</body></html>
